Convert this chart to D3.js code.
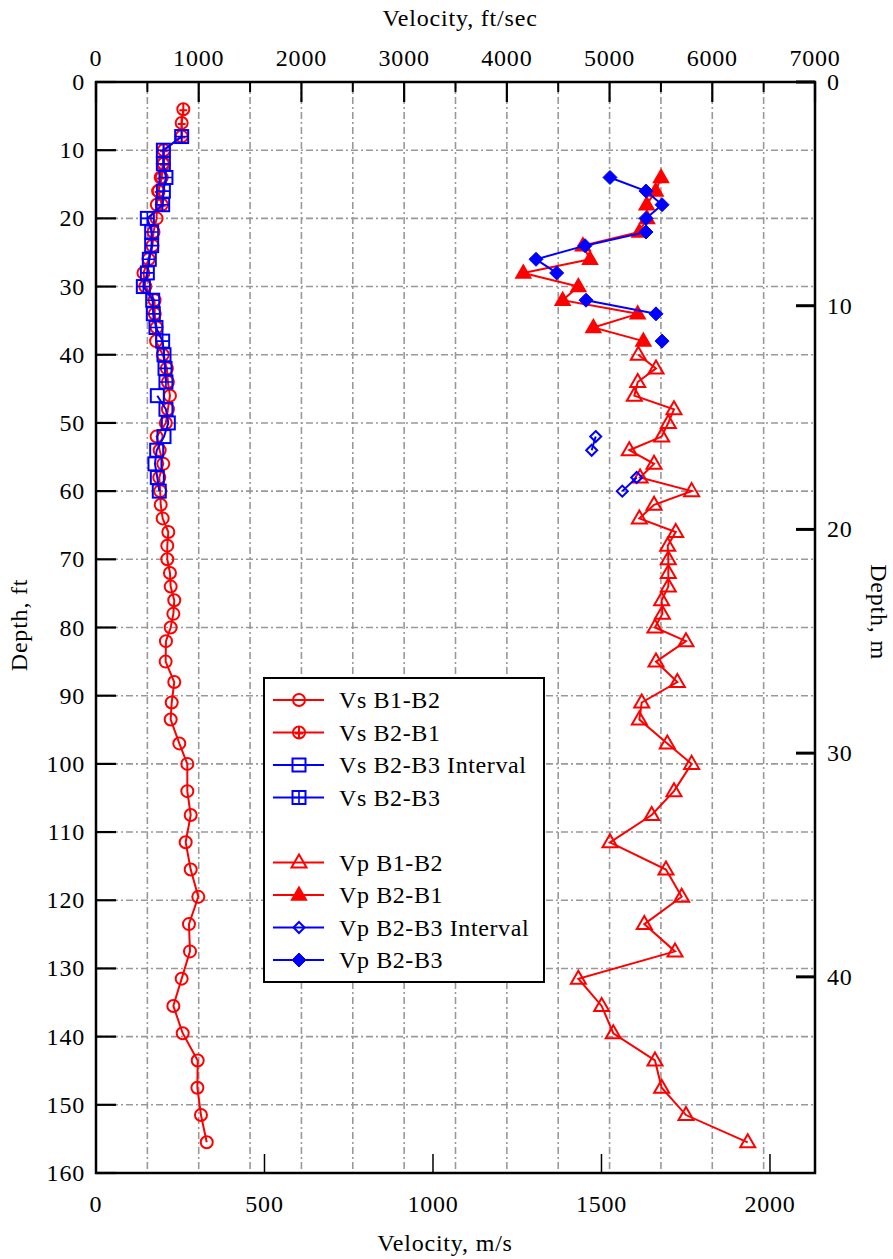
<!DOCTYPE html>
<html><head><meta charset="utf-8">
<script src="https://cdn.jsdelivr.net/npm/d3@7"></script>
<style>
body{margin:0;background:#fff}
text{font-family:"Liberation Serif","Times New Roman",serif;fill:#000}
</style>
</head><body><svg id="chart" width="893" height="1259"></svg>
<script>
// ---------- DATA (velocity in ft/sec, depth in ft) ----------
const vsB1B2Depth = [12,14,16,18,20,22,24,26,28,30,32,34,36,38,40,42,44,46,48,50,52,54,56,58,60,62,64,66,68,70,72,74,76,78,80,82,85,88,91,93.5,97,100,104,107.5,111.5,115.5,119.5,123.5,127.5,131.5,135.5,139.5,143.5,147.5,151.5,155.5];
const vsB1B2Vel   = [650,640,605,592,590,560,550,512,462,480,570,572,590,585,650,690,700,720,700,680,590,620,655,616,625,630,649,704,694,694,720,727,762,753,727,681,678,762,737,727,811,889,889,922,873,922,996,905,915,834,753,844,990,987,1022,1078];

const vsB2B1Depth = [4,6,8,10,12,14,16,18];
const vsB2B1Vel   = [850,834,834,660,660,630,610,640];

const vsB2B3IntDepth = [46,48,50,52,54,56,58,60];
const vsB2B3IntVel   = [597,681,704,662,591,574,597,616];

const vsB2B3Depth = [8,10,12,14,16,18,20,22,24,26,28,30,32,34,36,38,40,42,44];
const vsB2B3Vel   = [834,656,656,681,656,649,500,542,542,519,500,461,552,558,584,649,662,672,681];

const vpB1B2Depth = [40,42,44,46,48,50,52,54,56,58,60,62,64,66,68,70,72,74,76,78,80,82,85,88,91,93.5,97,100,104,107.5,111.5,115.5,119.5,123.5,127.5,131.5,135.5,139.5,143.5,147.5,151.5,155.5];
const vpB1B2Vel   = [5280,5452,5274,5241,5627,5572,5507,5192,5433,5297,5799,5433,5290,5644,5566,5572,5572,5572,5507,5514,5442,5744,5452,5660,5313,5290,5562,5799,5627,5410,5004,5549,5702,5338,5637,4696,4923,5036,5442,5507,5744,6345];

const vpB2B1Depth = [14,16,18,20,22,24,26,28,30,32,34,36,38];
const vpB2B1Vel   = [5501,5449,5361,5365,5290,4740,4810,4160,4696,4543,5274,4842,5329];

const vpB2B3IntDepth = [52,54,56,58,60];
const vpB2B3IntVel   = [4865,4826,null,5264,5124];

const vpB2B3Depth = [14,16,18,20,22,24,26,28,30,32,34,36,38];
const vpB2B3Vel   = [5004,5355,5511,5355,5355,4761,4284,4485,null,4771,5452,null,5511];

const seriesNames = ["Vs B1-B2","Vs B2-B1","Vs B2-B3 Interval","Vs B2-B3","Vp B1-B2","Vp B2-B1","Vp B2-B3 Interval","Vp B2-B3"];

const ftTicks = [0,1000,2000,3000,4000,5000,6000,7000];
const ftMinorTicks = [500,1500,2500,3500,4500,5500,6500];
const msTicks = [0,500,1000,1500,2000];
const depthFtTicks = [0,10,20,30,40,50,60,70,80,90,100,110,120,130,140,150,160];
const depthMTicks = [0,10,20,30,40];

// ---------- LAYOUT ----------
const L = 96, R = 815, T = 82, B = 1173;
const RED = "#ff0000", BLUE = "#0000ff";
const svg = d3.select("#chart");

const x = d3.scaleLinear().domain([0,7000]).range([L,R]);
const xm = d3.scaleLinear().domain([0,7000*0.3048]).range([L,R]);
const y = d3.scaleLinear().domain([0,160]).range([T,B]);
const ym = d3.scaleLinear().domain([0,160*0.3048]).range([T,B]);

// grid
const grid = svg.append("g").attr("stroke","#999").attr("stroke-width",1.6).attr("stroke-dasharray","7,3,2,3");
d3.range(500,7000,500).forEach(v=>{
  grid.append("line").attr("x1",x(v)).attr("x2",x(v)).attr("y1",T).attr("y2",B);
});
d3.range(10,160,10).forEach(d=>{
  grid.append("line").attr("x1",L).attr("x2",R).attr("y1",y(d)).attr("y2",y(d));
});

// markers
function marker(g, type, color){
  if(type==="circle"){
    g.append("circle").attr("r",6).attr("fill","none").attr("stroke",color).attr("stroke-width",2);
  } else if(type==="circlePlus"){
    g.append("circle").attr("r",6).attr("fill","none").attr("stroke",color).attr("stroke-width",2);
    g.append("path").attr("d","M0,-6V6M-4,1H4").attr("stroke",color).attr("stroke-width",2);
  } else if(type==="square"){
    g.append("rect").attr("x",-6.5).attr("y",-6.5).attr("width",13).attr("height",13).attr("fill","none").attr("stroke",color).attr("stroke-width",2);
  } else if(type==="squarePlus"){
    g.append("rect").attr("x",-6.5).attr("y",-6.5).attr("width",13).attr("height",13).attr("fill","none").attr("stroke",color).attr("stroke-width",2);
    g.append("path").attr("d","M0,-6.5V6.5M-6.5,0H6.5").attr("stroke",color).attr("stroke-width",1.6);
  } else if(type==="triangle"){
    g.append("path").attr("d","M0,-8L7.5,5H-7.5Z").attr("fill","none").attr("stroke",color).attr("stroke-width",2);
  } else if(type==="triangleFilled"){
    g.append("path").attr("d","M0,-8L7.5,5H-7.5Z").attr("fill",color).attr("stroke",color).attr("stroke-width",1.5);
  } else if(type==="diamond"){
    g.append("path").attr("d","M0,-5.5L5.5,0L0,5.5L-5.5,0Z").attr("fill","none").attr("stroke",color).attr("stroke-width",2);
  } else if(type==="diamondFilled"){
    g.append("path").attr("d","M0,-7L7,0L0,7L-7,0Z").attr("fill",color).attr("stroke",color).attr("stroke-width",1);
  }
}

const series = [
  {name:seriesNames[0], depth:vsB1B2Depth, vel:vsB1B2Vel, color:RED, type:"circle"},
  {name:seriesNames[1], depth:vsB2B1Depth, vel:vsB2B1Vel, color:RED, type:"circlePlus"},
  {name:seriesNames[2], depth:vsB2B3IntDepth, vel:vsB2B3IntVel, color:BLUE, type:"square"},
  {name:seriesNames[3], depth:vsB2B3Depth, vel:vsB2B3Vel, color:BLUE, type:"squarePlus"},
  {name:seriesNames[4], depth:vpB1B2Depth, vel:vpB1B2Vel, color:RED, type:"triangle"},
  {name:seriesNames[5], depth:vpB2B1Depth, vel:vpB2B1Vel, color:RED, type:"triangleFilled"},
  {name:seriesNames[6], depth:vpB2B3IntDepth, vel:vpB2B3IntVel, color:BLUE, type:"diamond"},
  {name:seriesNames[7], depth:vpB2B3Depth, vel:vpB2B3Vel, color:BLUE, type:"diamondFilled"}
];

const line = d3.line().defined(d=>d.v!=null).x(d=>x(d.v)).y(d=>y(d.d));
const plot = svg.append("g");
series.forEach(s=>{
  const pts = s.depth.map((d,i)=>({d:d, v:s.vel[i]}));
  plot.append("path").datum(pts).attr("d",line).attr("fill","none").attr("stroke",s.color).attr("stroke-width",2);
  pts.filter(p=>p.v!=null).forEach(p=>{
    const g = plot.append("g").attr("transform",`translate(${x(p.v)},${y(p.d)})`);
    marker(g, s.type, s.color);
  });
});

// legend
const lg = svg.append("g");
lg.append("rect").attr("x",264).attr("y",678).attr("width",280).attr("height",304).attr("fill","#fff").attr("stroke","#000").attr("stroke-width",2);
const slots = [0,1,2,3,5,6,7,8];
series.forEach((s,i)=>{
  const cy = 700 + slots[i]*32.5;
  lg.append("line").attr("x1",273).attr("x2",324).attr("y1",cy).attr("y2",cy).attr("stroke",s.color).attr("stroke-width",2);
  const g = lg.append("g").attr("transform",`translate(299,${cy})`);
  marker(g, s.type, s.color);
  lg.append("text").attr("x",339).attr("y",cy+8).attr("font-size",24).attr("letter-spacing",0.6).text(s.name);
});

// frame
svg.append("rect").attr("x",L).attr("y",T).attr("width",R-L).attr("height",B-T).attr("fill","none").attr("stroke","#000").attr("stroke-width",2.5);

// ticks
const tk = svg.append("g").attr("stroke","#000");
ftTicks.forEach(v=>{ tk.append("line").attr("x1",x(v)).attr("x2",x(v)).attr("y1",T).attr("y2",T+20).attr("stroke-width",2.2); });
ftMinorTicks.forEach(v=>{ tk.append("line").attr("x1",x(v)).attr("x2",x(v)).attr("y1",T).attr("y2",T+10).attr("stroke-width",2); });
depthFtTicks.forEach(d=>{ tk.append("line").attr("x1",L).attr("x2",L+20).attr("y1",y(d)).attr("y2",y(d)).attr("stroke-width",2.2); });
depthMTicks.forEach(d=>{ tk.append("line").attr("x1",R-19).attr("x2",R).attr("y1",ym(d)).attr("y2",ym(d)).attr("stroke-width",3); });
msTicks.forEach(v=>{ tk.append("line").attr("x1",xm(v)).attr("x2",xm(v)).attr("y1",B-19).attr("y2",B).attr("stroke-width",1.5); });

// tick labels
const lab = svg.append("g").attr("font-size",24).attr("letter-spacing",0.8);
ftTicks.forEach(v=>{ lab.append("text").attr("x",x(v)).attr("y",66).attr("text-anchor","middle").text(v); });
msTicks.forEach(v=>{ lab.append("text").attr("x",xm(v)).attr("y",1212).attr("text-anchor","middle").text(v); });
depthFtTicks.forEach(d=>{ lab.append("text").attr("x",85).attr("y",y(d)+8).attr("text-anchor","end").text(d); });
depthMTicks.forEach(d=>{ lab.append("text").attr("x",827).attr("y",ym(d)+8).attr("text-anchor","start").text(d); });

// axis titles
lab.append("text").attr("x",460).attr("y",26).attr("text-anchor","middle").text("Velocity, ft/sec");
lab.append("text").attr("x",445).attr("y",1251).attr("text-anchor","middle").text("Velocity, m/s");
lab.append("text").attr("transform","translate(27,625) rotate(-90)").attr("text-anchor","middle").text("Depth, ft");
lab.append("text").attr("transform","translate(871,612) rotate(90)").attr("text-anchor","middle").text("Depth, m");
</script></body></html>
